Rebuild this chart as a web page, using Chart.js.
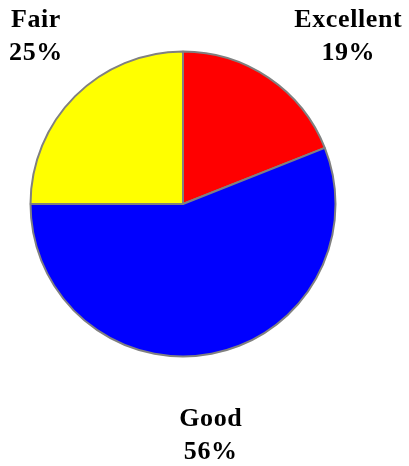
<!DOCTYPE html>
<html>
<head>
<meta charset="utf-8">
<script src="https://cdn.jsdelivr.net/npm/chart.js@4"></script>
<style>
  html, body { margin: 0; padding: 0; background: #fff; }
  #chart { display: block; }
</style>
</head>
<body>
<canvas id="chart" width="409" height="466"></canvas>
<script>
// chart data
var categories = ['Excellent', 'Good', 'Fair'];
var percents = [19, 56, 25];
var sliceColors = ['#ff0000', '#0000ff', '#ffff00'];

// labels sit outside the pie, nudged from the edge of each slice
var labelPlugin = {
  id: 'outsideLabels',
  afterDatasetsDraw: function (chart, args, opts) {
    var ctx = chart.ctx;
    var meta = chart.getDatasetMeta(0);
    ctx.save();
    ctx.font = 'bold 26px "Liberation Serif", "Times New Roman", serif';
    ctx.letterSpacing = '0.6px';
    ctx.fillStyle = '#000';
    ctx.textAlign = 'center';
    ctx.textBaseline = 'middle';
    meta.data.forEach(function (arc, i) {
      var p = arc.getProps(['x', 'y', 'startAngle', 'endAngle', 'outerRadius'], true);
      var mid = (p.startAngle + p.endAngle) / 2;
      var off = opts.offsets[i];
      var x = p.x + Math.cos(mid) * (p.outerRadius + 1) + off[0];
      var y = p.y + Math.sin(mid) * (p.outerRadius + 1) + off[1];
      ctx.fillText(chart.data.labels[i], x, y - 16.5);
      ctx.fillText(chart.data.datasets[0].data[i] + '%', x, y + 16.5);
    });
    ctx.restore();
  }
};

new Chart(document.getElementById('chart'), {
  type: 'pie',
  data: {
    labels: categories,
    datasets: [{
      data: percents,
      backgroundColor: sliceColors,
      borderColor: '#808080',
      borderWidth: 2
    }]
  },
  options: {
    responsive: false,
    animation: false,
    layout: {
      padding: { left: 29.5, top: 50.5, right: 72.5, bottom: 108.5 }
    },
    plugins: {
      legend: { display: false },
      tooltip: { enabled: false },
      outsideLabels: {
        offsets: [[79, -40.5], [-1, 81.5], [-38.5, -59]]
      }
    }
  },
  plugins: [labelPlugin]
});
</script>
</body>
</html>
